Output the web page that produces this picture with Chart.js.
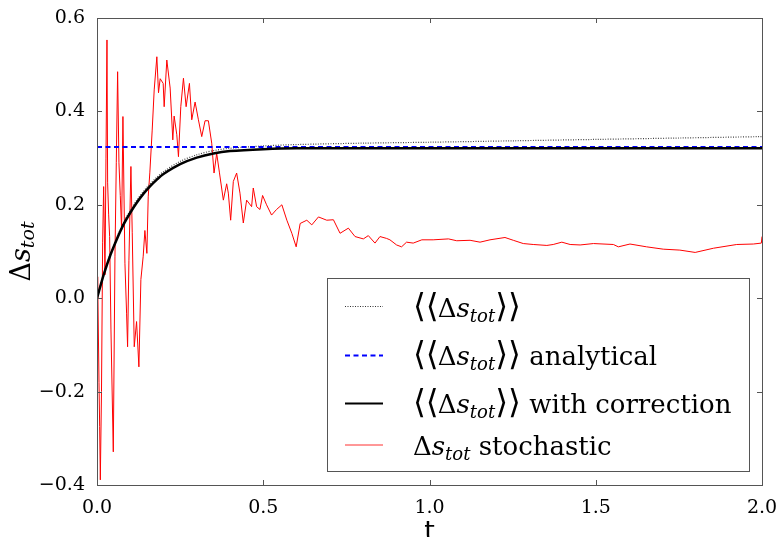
<!DOCTYPE html>
<html>
<head>
<meta charset="utf-8">
<script src="https://cdn.jsdelivr.net/npm/chart.js@4/dist/chart.umd.min.js"></script>
<style>
  html, body { margin: 0; padding: 0; background: #fff; }
  #wrap { width: 779px; height: 537px; }
</style>
</head>
<body>
<div id="wrap"><canvas id="chart" width="779" height="537"></canvas></div>
<script>
// Data
const tStoch = [0.000, 0.002, 0.006, 0.008, 0.010, 0.0135, 0.017, 0.020, 0.024, 0.027, 0.030, 0.032, 0.035, 0.038, 0.042, 0.049,
  0.054, 0.058, 0.062, 0.066, 0.070, 0.074, 0.078, 0.084, 0.089, 0.092, 0.096, 0.102, 0.106, 0.112, 0.119, 0.126,
  0.132, 0.139, 0.144, 0.150, 0.154, 0.159, 0.166, 0.172, 0.180, 0.185, 0.190, 0.199, 0.202, 0.210, 0.220, 0.228,
  0.232, 0.240, 0.245, 0.252, 0.260, 0.268, 0.278, 0.285, 0.295, 0.305, 0.315, 0.325, 0.335, 0.345, 0.352,
  0.360, 0.368, 0.380, 0.390, 0.395, 0.402, 0.410, 0.420, 0.430, 0.440, 0.450, 0.465, 0.470, 0.480, 0.490,
  0.498, 0.510, 0.525, 0.540, 0.556, 0.571, 0.586, 0.599, 0.611, 0.631, 0.646, 0.666, 0.691, 0.711, 0.731,
  0.756, 0.776, 0.801, 0.816, 0.836, 0.851, 0.871, 0.881, 0.901, 0.916, 0.931, 0.951, 0.977, 1.011, 1.057,
  1.082, 1.122, 1.152, 1.182, 1.227, 1.252, 1.282, 1.312, 1.353, 1.372, 1.398, 1.423, 1.453, 1.493, 1.553,
  1.568, 1.603, 1.653, 1.703, 1.753, 1.799, 1.854, 1.924, 1.974, 1.998, 2.000];
const dsStoch = [0.000, 0.046, -0.180, -0.275, -0.389, -0.200, 0.120, 0.239, 0.050, 0.300, 0.553, 0.247, 0.180, 0.132, -0.068, -0.329,
  0.090, 0.290, 0.485, 0.290, 0.220, 0.146, 0.389, 0.075, -0.032, -0.104, 0.080, 0.282, 0.140, -0.104, -0.050, -0.147,
  0.040, 0.090, 0.145, 0.096, 0.217, 0.270, 0.360, 0.446, 0.517, 0.440, 0.470, 0.460, 0.410, 0.510, 0.450, 0.339,
  0.390, 0.350, 0.303, 0.410, 0.471, 0.410, 0.460, 0.382, 0.420, 0.382, 0.346, 0.380, 0.380, 0.332, 0.268,
  0.310, 0.270, 0.210, 0.245, 0.225, 0.167, 0.250, 0.268, 0.225, 0.161, 0.210, 0.196, 0.236, 0.196, 0.190,
  0.220, 0.200, 0.178, 0.190, 0.200, 0.167, 0.139, 0.110, 0.160, 0.167, 0.157, 0.174, 0.167, 0.168, 0.139,
  0.150, 0.132, 0.127, 0.134, 0.118, 0.132, 0.128, 0.125, 0.114, 0.110, 0.120, 0.118, 0.125, 0.125, 0.127,
  0.123, 0.124, 0.120, 0.125, 0.130, 0.124, 0.117, 0.115, 0.113, 0.115, 0.120, 0.115, 0.114, 0.117, 0.115,
  0.110, 0.116, 0.110, 0.105, 0.103, 0.098, 0.107, 0.115, 0.116, 0.118, 0.132];

const tMean = [0, 0.02, 0.04, 0.06, 0.08, 0.10, 0.12, 0.14, 0.16, 0.18, 0.20, 0.25, 0.30, 0.35, 0.40, 0.50,
  0.60, 0.80, 1.00, 1.25, 1.50, 1.75, 2.00];
const dsMean = [0.000, 0.052, 0.095, 0.131, 0.162, 0.188, 0.210, 0.229, 0.245, 0.259, 0.271, 0.293, 0.307,
  0.316, 0.321, 0.326, 0.329, 0.332, 0.334, 0.337, 0.340, 0.343, 0.346];

const tCorr = [0, 0.02, 0.04, 0.06, 0.08, 0.10, 0.12, 0.14, 0.16, 0.18, 0.20, 0.25, 0.30, 0.35, 0.40, 0.50,
  0.60, 0.80, 1.00, 1.50, 2.00];
const dsCorr = [0.000, 0.050, 0.092, 0.127, 0.158, 0.183, 0.205, 0.224, 0.240, 0.254, 0.266, 0.287, 0.301,
  0.310, 0.315, 0.319, 0.321, 0.321, 0.321, 0.321, 0.321];

const tAnalytic = [0, 2];
const dsAnalytic = [0.324, 0.324];

const xTicks = [0, 0.5, 1.0, 1.5, 2.0];
const yTicks = [-0.4, -0.2, 0.0, 0.2, 0.4, 0.6];

const SERIF = '"DejaVu Serif", "Liberation Serif", serif';
const FRAME = '#555';

const pts = (xs, ys) => xs.map((x, i) => ({ x: x, y: ys[i] }));

// draws a run of text parts with different fonts / offsets
function drawRich(ctx, x, y, parts) {
  parts.forEach(p => {
    ctx.font = p.font;
    ctx.fillText(p.text, x, y + (p.dy || 0));
    x += ctx.measureText(p.text).width + (p.gap || 0);
  });
  return x;
}

function textWidth(ctx, parts) {
  let w = 0;
  parts.forEach(p => { ctx.font = p.font; w += ctx.measureText(p.text).width + (p.gap || 0); });
  return w;
}

const F_TXT = '26px ' + SERIF;
const F_IT = 'italic 26px ' + SERIF;
const F_SUB = 'italic 18px ' + SERIF;
const F_BR = '33px "DejaVu Sans", ' + SERIF;

const dsParts = [
  { text: 'Δ', font: F_TXT },
  { text: 's', font: F_IT },
  { text: 'tot', font: F_SUB, dy: 5 }
];
const meanParts = [{ text: '⟨⟨', font: F_BR, gap: -1 }].concat(dsParts, [{ text: '⟩⟩', font: F_BR }]);

const legendRows = [
  { parts: meanParts, line: { color: '#333', width: 1, dash: [1, 1.5] } },
  { parts: meanParts.concat([{ text: ' analytical', font: F_TXT }]), line: { color: '#0000ff', width: 2, dash: [5, 3.5] } },
  { parts: meanParts.concat([{ text: ' with correction', font: F_TXT }]), line: { color: '#000', width: 2, dash: [] } },
  { parts: dsParts.concat([{ text: ' stochastic', font: F_TXT }]), line: { color: '#ff3030', width: 1, dash: [] } }
];
const legendBaselines = [317, 365, 413, 455];
const legendLineY = [306.5, 355.5, 403.5, 445];

const decorPlugin = {
  id: 'decor',
  afterDatasetsDraw(chart) {
    const ctx = chart.ctx;
    const a = chart.chartArea;
    const xs = chart.scales.x, ys = chart.scales.y;
    ctx.save();

    // frame
    ctx.strokeStyle = FRAME;
    ctx.lineWidth = 1;
    ctx.strokeRect(Math.round(a.left) + 0.5, Math.round(a.top) + 0.5,
      Math.round(a.right - a.left), Math.round(a.bottom - a.top));

    // inward ticks on all sides
    ctx.beginPath();
    xTicks.forEach(v => {
      const px = Math.round(xs.getPixelForValue(v)) + 0.5;
      if (px <= a.left + 1 || px >= a.right - 1) return;
      ctx.moveTo(px, a.bottom); ctx.lineTo(px, a.bottom - 5);
      ctx.moveTo(px, a.top); ctx.lineTo(px, a.top + 5);
    });
    yTicks.forEach(v => {
      const py = Math.round(ys.getPixelForValue(v)) + 0.5;
      if (py <= a.top + 1 || py >= a.bottom - 1) return;
      ctx.moveTo(a.left, py); ctx.lineTo(a.left + 5, py);
      ctx.moveTo(a.right, py); ctx.lineTo(a.right - 5, py);
    });
    ctx.stroke();

    // axis titles
    ctx.fillStyle = '#000';
    ctx.textBaseline = 'alphabetic';
    ctx.textAlign = 'left';
    ctx.font = '27px "DejaVu Sans", sans-serif';
    const tw = ctx.measureText('t').width;
    ctx.fillText('t', (a.left + a.right) / 2 - tw / 2, 540);

    const yParts = [
      { text: 'Δ', font: '27px ' + SERIF },
      { text: 's', font: 'italic 27px ' + SERIF },
      { text: 'tot', font: 'italic 19px ' + SERIF, dy: 4 }
    ];
    ctx.save();
    ctx.translate(30, (a.top + a.bottom) / 2);
    ctx.rotate(-Math.PI / 2);
    drawRich(ctx, -textWidth(ctx, yParts) / 2, 0, yParts);
    ctx.restore();

    // legend box
    const L = { x: 327, y: 278, w: 422, h: 193 };
    ctx.fillStyle = '#fff';
    ctx.fillRect(L.x, L.y, L.w, L.h);
    ctx.strokeStyle = FRAME;
    ctx.strokeRect(L.x + 0.5, L.y + 0.5, L.w, L.h);

    legendRows.forEach((row, i) => {
      ctx.beginPath();
      ctx.strokeStyle = row.line.color;
      ctx.lineWidth = row.line.width;
      ctx.setLineDash(row.line.dash);
      ctx.moveTo(345, legendLineY[i]);
      ctx.lineTo(383, legendLineY[i]);
      ctx.stroke();
      ctx.setLineDash([]);
      ctx.fillStyle = '#000';
      drawRich(ctx, 413, legendBaselines[i], row.parts);
    });

    ctx.restore();
  }
};

new Chart(document.getElementById('chart'), {
  type: 'line',
  data: {
    datasets: [
      {
        label: '⟨⟨Δs_tot⟩⟩ with correction',
        data: pts(tCorr, dsCorr),
        borderColor: '#000',
        borderWidth: 2.5,
        pointRadius: 0,
        tension: 0.3
      },
      {
        label: '⟨⟨Δs_tot⟩⟩ analytical',
        data: pts(tAnalytic, dsAnalytic),
        borderColor: '#0000ff',
        borderWidth: 2,
        borderDash: [5, 3.5],
        pointRadius: 0
      },
      {
        label: '⟨⟨Δs_tot⟩⟩',
        data: pts(tMean, dsMean),
        borderColor: '#444',
        borderWidth: 1.2,
        borderDash: [1, 1.5],
        pointRadius: 0,
        tension: 0.3
      },
      {
        label: 'Δs_tot stochastic',
        data: pts(tStoch, dsStoch),
        borderColor: '#ff0000',
        borderWidth: 1,
        pointRadius: 0,
        tension: 0
      }
    ]
  },
  options: {
    responsive: false,
    animation: false,
    devicePixelRatio: 1,
    layout: { padding: { top: 18, right: 17, left: 0, bottom: 0 } },
    plugins: { legend: { display: false }, tooltip: { enabled: false } },
    scales: {
      x: {
        type: 'linear',
        min: 0, max: 2,
        afterBuildTicks: s => { s.ticks = xTicks.map(v => ({ value: v })); },
        afterFit: s => { s.height = 52; s.paddingLeft = 0; s.paddingRight = 0; },
        grid: { display: false, drawTicks: false },
        border: { display: false },
        ticks: {
          padding: 12,
          color: '#000',
          font: { family: SERIF, size: 19 },
          callback: v => v.toFixed(1)
        }
      },
      y: {
        type: 'linear',
        min: -0.4, max: 0.6,
        afterBuildTicks: s => { s.ticks = yTicks.map(v => ({ value: v })); },
        afterFit: s => { s.width = 97; s.paddingTop = 0; s.paddingBottom = 0; },
        grid: { display: false, drawTicks: false },
        border: { display: false },
        ticks: {
          padding: 12,
          color: '#000',
          font: { family: SERIF, size: 19 },
          callback: v => (v < -1e-9 ? '\u2212' : '') + Math.abs(v).toFixed(1)
        }
      }
    }
  },
  plugins: [decorPlugin]
});
</script>
</body>
</html>
